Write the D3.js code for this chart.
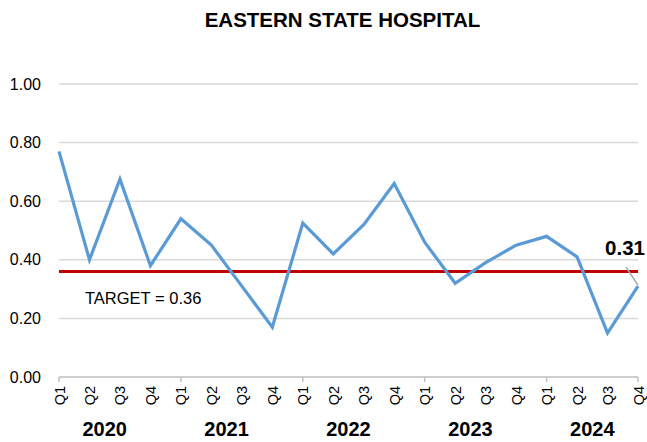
<!DOCTYPE html>
<html>
<head>
<meta charset="utf-8">
<script src="https://cdn.jsdelivr.net/npm/d3@7"></script>
<style>
  body { margin: 0; background: #fff; }
  svg { font-family: "Liberation Sans", Arial, sans-serif; }
</style>
</head>
<body>
<svg id="chart" width="647" height="442"></svg>
<script>
const years = ["2020", "2021", "2022", "2023", "2024"]
const quarters = ["Q1", "Q2", "Q3", "Q4"]
const values = [
  0.77, 0.40, 0.675, 0.38,
  0.54, 0.45, 0.31, 0.17,
  0.525, 0.42, 0.52, 0.66,
  0.46, 0.32, 0.39, 0.45,
  0.48, 0.41, 0.15, 0.31,
]
const yTicks = [0, 0.2, 0.4, 0.6, 0.8, 1.0]
const target = 0.36

const periods = years.flatMap((y) => quarters.map((q) => y + " " + q))

const svg = d3.select("#chart")
const plotLeft = 59, plotRight = 638, plotTop = 84, plotBottom = 377

const x = d3.scalePoint().domain(periods).range([plotLeft, plotRight])
const y = d3.scaleLinear().domain([0, 1]).range([plotBottom, plotTop])

// title
svg.append("text")
  .attr("x", 342.5).attr("y", 27)
  .attr("text-anchor", "middle")
  .attr("font-size", "20.5px").attr("font-weight", "bold")
  .attr("fill", "#000")
  .text("EASTERN STATE HOSPITAL")

// gridlines
svg.append("g")
  .selectAll("line")
  .data(yTicks.slice(1))
  .join("line")
  .attr("x1", plotLeft).attr("x2", plotRight)
  .attr("y1", (d) => y(d)).attr("y2", (d) => y(d))
  .attr("stroke", "#d9d9d9").attr("stroke-width", 1.5)

// y labels
svg.append("g")
  .selectAll("text")
  .data(yTicks)
  .join("text")
  .attr("x", 41).attr("y", (d) => y(d))
  .attr("dy", "0.35em")
  .attr("text-anchor", "end")
  .attr("font-size", "16px")
  .attr("fill", "#000")
  .text((d) => d.toFixed(2))

// x axis line
svg.append("line")
  .attr("x1", plotLeft).attr("x2", plotRight)
  .attr("y1", plotBottom).attr("y2", plotBottom)
  .attr("stroke", "#bfbfbf").attr("stroke-width", 1.5)

// group tick marks at year boundaries
const boundaries = years.map((yr) => x(yr + " Q1")).concat([plotRight])
svg.append("g")
  .selectAll("line")
  .data(boundaries)
  .join("line")
  .attr("x1", (d) => d).attr("x2", (d) => d)
  .attr("y1", plotBottom).attr("y2", plotBottom + 5)
  .attr("stroke", "#bfbfbf").attr("stroke-width", 1.5)

// quarter labels (rotated)
svg.append("g")
  .selectAll("text")
  .data(periods)
  .join("text")
  .attr("transform", (d) => `translate(${x(d) + 5.5}, ${plotBottom + 9}) rotate(-90)`)
  .attr("text-anchor", "end")
  .attr("font-size", "14.5px")
  .attr("fill", "#000")
  .text((d) => d.split(" ")[1])

// year labels
svg.append("g")
  .selectAll("text")
  .data(years)
  .join("text")
  .attr("x", (d) => (x(d + " Q1") + x(d + " Q4")) / 2)
  .attr("y", 436)
  .attr("text-anchor", "middle")
  .attr("font-size", "20px").attr("font-weight", "bold")
  .attr("fill", "#000")
  .text((d) => d)

// target line
svg.append("line")
  .attr("x1", plotLeft).attr("x2", plotRight)
  .attr("y1", y(target)).attr("y2", y(target))
  .attr("stroke", "#c00000").attr("stroke-width", 3)

svg.append("text")
  .attr("x", 85).attr("y", 304)
  .attr("font-size", "16.5px")
  .attr("fill", "#000")
  .text("TARGET = " + target)

// series line
const line = d3.line()
  .x((d, i) => x(periods[i]))
  .y((d) => y(d))

svg.append("path")
  .datum(values)
  .attr("d", line)
  .attr("fill", "none")
  .attr("stroke", "#5b9bd5")
  .attr("stroke-width", 3.2)
  .attr("stroke-linejoin", "miter")

// last value label with leader line
const last = values[values.length - 1]
const lx = x(periods[periods.length - 1])
svg.append("line")
  .attr("x1", lx - 12).attr("y1", y(last) - 19)
  .attr("x2", lx).attr("y2", y(last) - 1)
  .attr("stroke", "#a6a6a6").attr("stroke-width", 1.5)

svg.append("text")
  .attr("x", lx - 13).attr("y", 255)
  .attr("text-anchor", "middle")
  .attr("font-size", "20.5px").attr("font-weight", "bold")
  .attr("fill", "#000")
  .text(last.toFixed(2))
</script>
</body>
</html>
